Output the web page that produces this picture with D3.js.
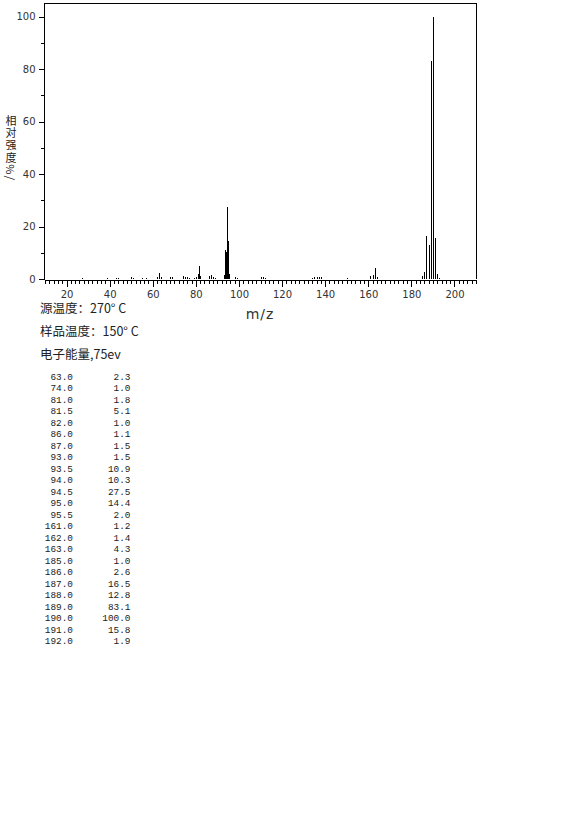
<!DOCTYPE html>
<html>
<head>
<meta charset="utf-8">
<title>Mass spectrum</title>
<script src="https://d3js.org/d3.v7.min.js"></script>
<style>
  body { margin: 0; background: #fff; }
  .axis text { font-family: "DejaVu Sans", sans-serif; font-size: 10px; fill: #333; }
  .axis line, .axis path { stroke: #000; shape-rendering: crispEdges; }
  .note { font-family: "Noto Sans CJK SC", sans-serif; font-size: 12.5px; fill: #222; }
  .tbl { font-family: "Liberation Mono", monospace; font-size: 9.4px; fill: #222; }
</style>
</head>
<body>
<div id="chart"></div>
<script>
// peaks listed in the table (m/z, relative intensity %)
var mz = [63.0, 74.0, 81.0, 81.5, 82.0, 86.0, 87.0, 93.0, 93.5, 94.0, 94.5, 95.0, 95.5,
          161.0, 162.0, 163.0, 185.0, 186.0, 187.0, 188.0, 189.0, 190.0, 191.0, 192.0];
var intensity = [2.3, 1.0, 1.8, 5.1, 1.0, 1.1, 1.5, 1.5, 10.9, 10.3, 27.5, 14.4, 2.0,
                 1.2, 1.4, 4.3, 1.0, 2.6, 16.5, 12.8, 83.1, 100.0, 15.8, 1.9];

// small peaks seen on the plot but below the table's cut-off (estimated)
var minorMz = [27, 39, 43, 44, 50, 51, 55, 57, 62, 64, 68, 69, 75, 76, 77, 79, 80, 88, 89,
               98, 99, 110, 111, 112, 134, 135, 136, 137, 138, 150, 164, 193];
var minorInt = [0.4, 0.5, 0.4, 0.5, 0.6, 0.5, 0.4, 0.4, 0.8, 0.6, 0.7, 0.7, 0.9, 0.6, 0.5, 0.5, 0.6, 0.8, 0.5,
                0.7, 0.5, 0.6, 0.8, 0.5, 0.5, 0.6, 0.7, 0.9, 0.6, 0.4, 0.7, 0.5];

var xTicks = [20, 40, 60, 80, 100, 120, 140, 160, 180, 200];
var yTicks = [0, 20, 40, 60, 80, 100];

var notes = ["源温度：270° C", "样品温度：150° C", "电子能量,75ev"];

var svg = d3.select("#chart").append("svg")
    .attr("width", 570)
    .attr("height", 814);

var x = d3.scaleLinear().domain([10, 210]).range([45, 476]);
var y = d3.scaleLinear().domain([0, 100]).range([279, 16.7]);

// frame (left, top, right)
svg.append("path")
    .attr("d", "M44.5,279 V3.5 H476.5 V279")
    .attr("fill", "none")
    .attr("stroke", "#000")
    .attr("shape-rendering", "crispEdges");

// y axis
svg.append("g").attr("class", "axis")
    .attr("transform", "translate(44.5,0)")
    .call(d3.axisLeft(y).tickValues(d3.range(10, 101, 20)).tickSize(4).tickFormat(""))
    .select(".domain").remove();
svg.append("g").attr("class", "axis")
    .attr("transform", "translate(44.5,0)")
    .call(d3.axisLeft(y).tickValues(yTicks).tickSize(6).tickPadding(3))
    .select(".domain").remove();

// x axis
svg.append("g").attr("class", "axis")
    .attr("transform", "translate(0,279.5)")
    .call(d3.axisBottom(x).tickValues(d3.range(10, 211, 2)).tickSize(4).tickFormat(""))
    .select(".domain").remove();
var xa = svg.append("g").attr("class", "axis")
    .attr("transform", "translate(0,279.5)")
    .call(d3.axisBottom(x).tickValues(xTicks).tickSize(7).tickPadding(4));
xa.select(".domain").attr("d", "M44.5,0.5H476.5");

// peaks
function drawPeaks(xs, vs) {
    svg.append("g").selectAll("line")
        .data(xs)
        .enter()
        .append("line")
        .attr("x1", function (d) { return Math.round(x(d)) + 0.5; })
        .attr("x2", function (d) { return Math.round(x(d)) + 0.5; })
        .attr("y1", y(0))
        .attr("y2", function (d, i) { return y(vs[i]); })
        .attr("stroke", "#000")
        .attr("stroke-width", 1)
        .attr("shape-rendering", "crispEdges");
}
drawPeaks(minorMz, minorInt);
drawPeaks(mz, intensity);

// y label, written vertically (latin part turns sideways on its own)
svg.append("text")
    .attr("class", "note")
    .attr("x", 11)
    .attr("y", 115)
    .style("font-size", "11px")
    .style("writing-mode", "vertical-rl")
    .style("letter-spacing", "1.3px")
    .text("相对强度%/");

// x label
svg.append("text")
    .attr("x", 260)
    .attr("y", 319)
    .attr("text-anchor", "middle")
    .style("font-family", "DejaVu Sans, sans-serif")
    .style("font-size", "14px")
    .style("letter-spacing", "1px")
    .attr("fill", "#333")
    .text("m/z");

// notes
svg.selectAll(".note-line")
    .data(notes)
    .enter()
    .append("text")
    .attr("class", "note")
    .attr("x", 40)
    .attr("y", function (d, i) { return 313 + i * 23; })
    .text(function (d) { return d; });

// peak table
var tbl = svg.append("g").attr("class", "tbl");
mz.forEach(function (m, i) {
    tbl.append("text")
        .attr("x", 73)
        .attr("y", 380 + i * 11.48)
        .attr("text-anchor", "end")
        .text(m.toFixed(1));
    tbl.append("text")
        .attr("x", 130.5)
        .attr("y", 380 + i * 11.48)
        .attr("text-anchor", "end")
        .text(intensity[i].toFixed(1));
});
</script>
</body>
</html>
